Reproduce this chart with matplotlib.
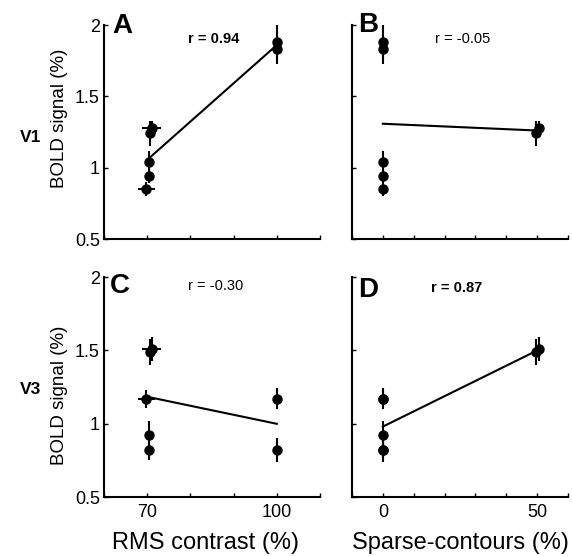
import matplotlib
matplotlib.use('Agg')
import matplotlib.pyplot as plt
import numpy as np

plt.rcParams['font.family'] = ['Liberation Sans', 'DejaVu Sans']

# 7 stimulus conditions, same order in every panel
rms_x = np.array([69.8, 70.5, 70.5, 70.7, 71.0, 100, 100])
rms_xerr = np.array([2.0, 0, 0, 0, 2.2, 0, 0])
sparse_x = np.array([0, 0, 0, 49.7, 50.5, 0, 0])

v1_y = np.array([0.85, 0.94, 1.04, 1.24, 1.28, 1.83, 1.88])
v1_yerr = np.array([0.05, 0.05, 0.08, 0.09, 0.05, 0.10, 0.12])
v3_y = np.array([1.17, 0.92, 0.82, 1.49, 1.51, 0.82, 1.17])
v3_yerr = np.array([0.06, 0.10, 0.07, 0.09, 0.08, 0.08, 0.07])

r_text = {'A': 'r = 0.94', 'B': 'r = -0.05', 'C': 'r = -0.30', 'D': 'r = 0.87'}
r_bold = {'A': True, 'B': False, 'C': False, 'D': True}

rms_ticks = [60, 70, 80, 90, 100, 110]
rms_labels = ['', '70', '', '', '100', '']
sparse_ticks = [-10, 0, 10, 20, 30, 40, 50, 60]
sparse_labels = ['', '0', '', '', '', '', '50', '']
y_ticks = [0.5, 1, 1.5, 2]
y_labels = ['0.5', '1', '1.5', '2']

W, H = 572, 556
fig = plt.figure(figsize=(W / 100, H / 100), dpi=100)


# axes rect from pixel box
def box(l, t, r, b):
    return [l / W, 1 - b / H, (r - l) / W, (b - t) / H]


panels = [
    ('A', box(104, 25, 320, 239), rms_x, rms_xerr, v1_y, v1_yerr, (60, 110), rms_ticks, rms_labels),
    ('B', box(352, 25, 568, 239), sparse_x, None, v1_y, v1_yerr, (-10, 60), sparse_ticks, sparse_labels),
    ('C', box(104, 277, 320, 497), rms_x, rms_xerr, v3_y, v3_yerr, (60, 110), rms_ticks, rms_labels),
    ('D', box(352, 277, 568, 497), sparse_x, None, v3_y, v3_yerr, (-10, 60), sparse_ticks, sparse_labels),
]

for name, rect, x, xerr, y, yerr, xlim, xt, xl in panels:
    ax = fig.add_axes(rect)
    ax.errorbar(x, y, xerr=xerr, yerr=yerr, fmt='o', color='k', ms=6.5,
                elinewidth=1.5, capsize=0, zorder=3)
    # least squares line over the data range
    slope, icpt = np.polyfit(x, y, 1)
    xs = np.array([x.min(), x.max()])
    ax.plot(xs, slope * xs + icpt, color='k', lw=1.5, zorder=2)

    ax.set_xlim(*xlim)
    ax.set_ylim(0.5, 2)
    for s in ['top', 'right']:
        ax.spines[s].set_visible(False)
    for s in ['left', 'bottom']:
        ax.spines[s].set_linewidth(1.5)
    ax.set_xticks(xt)
    ax.set_yticks(y_ticks)
    ax.tick_params(direction='in', length=3, width=1, labelsize=13, pad=3)
    ax.tick_params(axis='x', pad=5)
    if name in ('A', 'C'):
        ax.set_yticklabels(y_labels)
    else:
        ax.set_yticklabels([])
    if name in ('C', 'D'):
        ax.set_xticklabels(xl)
    else:
        ax.set_xticklabels([])

# panel letters and r values (pixel positions)
letters = {'A': (112, 33), 'B': (358, 32), 'C': (110, 293), 'D': (358, 297)}
for k, (px, py) in letters.items():
    fig.text(px / W, 1 - py / H, k, fontsize=20, fontweight='bold', va='baseline')
r_pos = {'A': (214, 43), 'B': (463, 43), 'C': (216, 290), 'D': (457, 292)}
for k, (px, py) in r_pos.items():
    fig.text(px / W, 1 - py / H, r_text[k], fontsize=10.5, ha='center', va='baseline',
             fontweight='bold' if r_bold[k] else 'normal')

fig.text(31 / W, 1 - 138 / H, 'V1', fontsize=12.5, fontweight='bold', ha='center', va='center')
fig.text(31 / W, 1 - 390 / H, 'V3', fontsize=12.5, fontweight='bold', ha='center', va='center')
fig.text(60 / W, 1 - 118 / H, 'BOLD signal (%)', fontsize=13.5, rotation=90, ha='center', va='center')
fig.text(60 / W, 1 - 395 / H, 'BOLD signal (%)', fontsize=13.5, rotation=90, ha='center', va='center')

fig.text(205 / W, 1 - 549 / H, 'RMS contrast (%)', fontsize=17, ha='center', va='baseline')
fig.text(460 / W, 1 - 549 / H, 'Sparse-contours (%)', fontsize=17, ha='center', va='baseline')

fig.savefig('out.png', dpi=100)
